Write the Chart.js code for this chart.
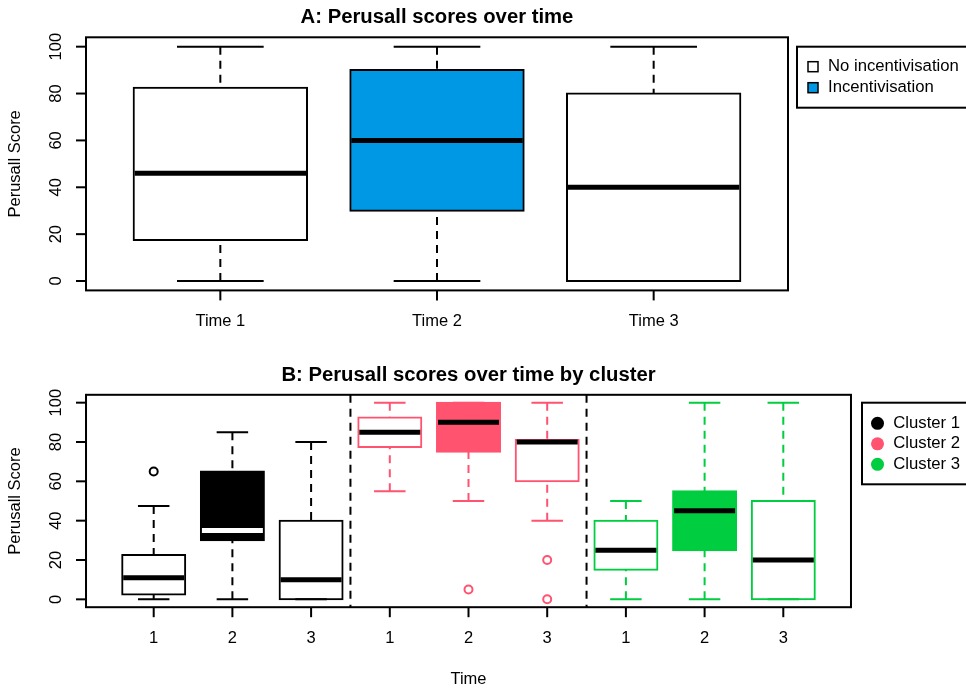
<!DOCTYPE html>
<html>
<head>
<meta charset="utf-8">
<script src="https://cdn.jsdelivr.net/npm/chart.js@4.4.0/dist/chart.umd.min.js"></script>
<style>
  body { margin: 0; background: #fff; }
  #wrap { position: relative; width: 966px; height: 690px; }
  canvas { position: absolute; left: 0; }
</style>
</head>
<body>
<div id="wrap">
  <canvas id="chartA" width="966" height="345" style="top:0"></canvas>
  <canvas id="chartB" width="966" height="345" style="top:345px"></canvas>
</div>
<script>
// Panel A: Perusall scores over time
const timeLabels = ['Time 1', 'Time 2', 'Time 3'];
const aMin = [0, 0, 0];
const aQ1 = [17.5, 30, 0];
const aMedian = [46, 60, 40];
const aQ3 = [82.5, 90, 80];
const aMax = [100, 100, 100];
const aLegend = ['No incentivisation', 'Incentivisation'];

// Panel B: by cluster (cluster 1 times 1-3, cluster 2 times 1-3, cluster 3 times 1-3)
const clusterNames = ['Cluster 1', 'Cluster 2', 'Cluster 3'];
const clusterTimes = ['1', '2', '3'];
const bMin = [0, 0, 0, 55, 50, 40, 0, 0, 0];
const bQ1 = [2.5, 30, 0, 77.5, 75, 60, 15, 25, 0];
const bMedian = [11, 35, 10, 85, 90, 80, 25, 45, 20];
const bQ3 = [22.5, 65, 40, 92.5, 100, 81, 40, 55, 50];
const bMax = [47.5, 85, 80, 100, 100, 100, 50, 100, 100];
const bOutliers = [[65], [], [], [], [5], [20, 0], [], [], []];

const yTicks = [0, 20, 40, 60, 80, 100];

// colours
const BLUE = '#0098E5';
const PINK = '#FF5370';
const GREEN = '#00CD3F';
const FONT = '"Liberation Sans", Arial, sans-serif';

// whiskers, staples, medians and outliers, R boxplot style
const rBoxParts = {
  id: 'rBoxParts',
  afterDatasetsDraw(chart, args, opts) {
    const { ctx } = chart;
    const x = chart.scales.x, y = chart.scales.y;
    const bars = chart.getDatasetMeta(0).data;
    opts.median.forEach((m, i) => {
      const cx = x.getPixelForValue(i);
      const half = bars[i].width / 2;
      const col = opts.lineColors[i];
      ctx.save();
      ctx.strokeStyle = col;
      ctx.lineWidth = 2;
      ctx.setLineDash([8, 6]);
      ctx.beginPath();
      ctx.moveTo(cx, y.getPixelForValue(opts.max[i]));
      ctx.lineTo(cx, y.getPixelForValue(opts.q3[i]));
      ctx.moveTo(cx, y.getPixelForValue(opts.min[i]));
      ctx.lineTo(cx, y.getPixelForValue(opts.q1[i]));
      ctx.stroke();
      ctx.setLineDash([]);
      // staples
      ctx.beginPath();
      [opts.max[i], opts.min[i]].forEach(v => {
        const py = y.getPixelForValue(v);
        ctx.moveTo(cx - half / 2, py);
        ctx.lineTo(cx + half / 2, py);
      });
      ctx.stroke();
      // median
      ctx.strokeStyle = opts.medianColors[i];
      ctx.lineWidth = 5;
      ctx.beginPath();
      const pm = y.getPixelForValue(m);
      ctx.moveTo(cx - half + 1, pm);
      ctx.lineTo(cx + half - 1, pm);
      ctx.stroke();
      // outliers
      ctx.strokeStyle = col;
      ctx.lineWidth = 2;
      (opts.outliers[i] || []).forEach(v => {
        ctx.beginPath();
        ctx.arc(cx, y.getPixelForValue(v), 4, 0, Math.PI * 2);
        ctx.stroke();
      });
      ctx.restore();
    });
  }
};

// frame, axes, titles and legend drawn like base R graphics
const rFrame = {
  id: 'rFrame',
  afterDraw(chart, args, o) {
    const { ctx, chartArea } = chart;
    const x = chart.scales.x, y = chart.scales.y;
    const left = x.getPixelForValue(o.xRange[0]);
    const right = x.getPixelForValue(o.xRange[1]);
    const top = chartArea.top, bottom = chartArea.bottom;
    ctx.save();
    ctx.strokeStyle = '#000';
    ctx.fillStyle = '#000';
    ctx.lineWidth = 2;

    // group separators
    ctx.setLineDash([8, 6]);
    (o.separators || []).forEach(v => {
      const px = x.getPixelForValue(v);
      ctx.beginPath();
      ctx.moveTo(px, top);
      ctx.lineTo(px, bottom);
      ctx.stroke();
    });
    ctx.setLineDash([]);

    ctx.strokeRect(left, top, right - left, bottom - top);

    ctx.font = '16.5px ' + FONT;
    ctx.textAlign = 'center';
    ctx.textBaseline = 'middle';

    // y axis
    yTicks.forEach(t => {
      const py = y.getPixelForValue(t);
      ctx.beginPath();
      ctx.moveTo(left - 10, py);
      ctx.lineTo(left, py);
      ctx.stroke();
      ctx.save();
      ctx.translate(56, py);
      ctx.rotate(-Math.PI / 2);
      ctx.fillText(String(t), 0, 0);
      ctx.restore();
    });
    ctx.save();
    ctx.translate(15, (top + bottom) / 2);
    ctx.rotate(-Math.PI / 2);
    ctx.fillText('Perusall Score', 0, 0);
    ctx.restore();

    // x axis
    chart.data.labels.forEach((lab, i) => {
      const px = x.getPixelForValue(i);
      ctx.beginPath();
      ctx.moveTo(px, bottom);
      ctx.lineTo(px, bottom + 10);
      ctx.stroke();
      ctx.fillText(lab, px, bottom + 31);
    });
    if (o.xTitle) ctx.fillText(o.xTitle, (left + right) / 2, bottom + 72);

    // title
    ctx.font = 'bold 20.3px ' + FONT;
    ctx.fillText(o.title, (left + right) / 2, o.titleY);

    // legend
    const lg = o.legend;
    ctx.lineWidth = 2;
    ctx.strokeRect(lg.x, lg.y, 200, lg.h);
    ctx.font = '16.7px ' + FONT;
    ctx.textAlign = 'left';
    lg.labels.forEach((lab, i) => {
      const py = lg.y + lg.first + i * lg.step;
      if (lg.shape === 'square') {
        ctx.fillStyle = lg.colors[i];
        ctx.fillRect(lg.x + 11, py - 5, 10, 10);
        ctx.lineWidth = 1.5;
        ctx.strokeRect(lg.x + 11, py - 5, 10, 10);
      } else {
        ctx.fillStyle = lg.colors[i];
        ctx.beginPath();
        ctx.arc(lg.x + 15.5, py, 6.5, 0, Math.PI * 2);
        ctx.fill();
      }
      ctx.fillStyle = '#000';
      ctx.fillText(lab, lg.x + lg.textDx, py);
    });
    ctx.restore();
  }
};

function baseOptions(padding) {
  return {
    responsive: false,
    animation: false,
    layout: { padding },
    plugins: {
      legend: { display: false },
      tooltip: { enabled: false },
      title: { display: false }
    },
    scales: {
      x: { display: false, offset: true },
      y: { display: false, min: -4, max: 104 }
    }
  };
}

// ---- Panel A ----
const optsA = baseOptions({ left: 112, right: 204, top: 37.3, bottom: 54.6 });
optsA.plugins.rBoxParts = {
  min: aMin, q1: aQ1, median: aMedian, q3: aQ3, max: aMax, outliers: [],
  lineColors: ['#000', '#000', '#000'],
  medianColors: ['#000', '#000', '#000']
};
optsA.plugins.rFrame = {
  xRange: [-0.62, 2.62],
  title: 'A: Perusall scores over time',
  titleY: 17,
  legend: {
    x: 797, y: 46.7, h: 61, first: 20, step: 21,
    shape: 'square', labels: aLegend, colors: ['#fff', BLUE], textDx: 31
  }
};

new Chart(document.getElementById('chartA'), {
  type: 'bar',
  data: {
    labels: timeLabels,
    datasets: [{
      data: aQ1.map((q, i) => [q, aQ3[i]]),
      backgroundColor: ['#fff', BLUE, '#fff'],
      borderColor: '#000',
      borderWidth: 2,
      borderSkipped: false,
      inflateAmount: 1,
      barPercentage: 0.8,
      categoryPercentage: 1
    }]
  },
  options: optsA,
  plugins: [rBoxParts, rFrame]
});

// ---- Panel B ----
const clusterColors = ['#000', PINK, GREEN];
const bLabels = [];
const bBorder = [];
clusterNames.forEach((c, ci) => {
  clusterTimes.forEach(t => {
    bLabels.push(t);
    bBorder.push(clusterColors[ci]);
  });
});
const bFill = ['#fff', '#000', '#fff', '#fff', PINK, '#fff', '#fff', GREEN, '#fff'];
const bMedianColors = ['#000', '#fff', '#000', '#000', '#000', '#000', '#000', '#000', '#000'];

const optsB = baseOptions({ left: 114.35, right: 143.35, top: 49.8, bottom: 82.8 });
optsB.plugins.rBoxParts = {
  min: bMin, q1: bQ1, median: bMedian, q3: bQ3, max: bMax, outliers: bOutliers,
  lineColors: bBorder,
  medianColors: bMedianColors
};
optsB.plugins.rFrame = {
  xRange: [-0.86, 8.86],
  separators: [2.5, 5.5],
  title: 'B: Perusall scores over time by cluster',
  titleY: 30,
  xTitle: 'Time',
  legend: {
    x: 862, y: 57.7, h: 81.6, first: 20.6, step: 20.5,
    shape: 'circle', labels: clusterNames, colors: clusterColors, textDx: 31.3
  }
};

new Chart(document.getElementById('chartB'), {
  type: 'bar',
  data: {
    labels: bLabels,
    datasets: [{
      data: bQ1.map((q, i) => [q, bQ3[i]]),
      backgroundColor: bFill,
      borderColor: bBorder,
      borderWidth: 2,
      borderSkipped: false,
      inflateAmount: 1,
      barPercentage: 0.8,
      categoryPercentage: 1
    }]
  },
  options: optsB,
  plugins: [rBoxParts, rFrame]
});
</script>
</body>
</html>
